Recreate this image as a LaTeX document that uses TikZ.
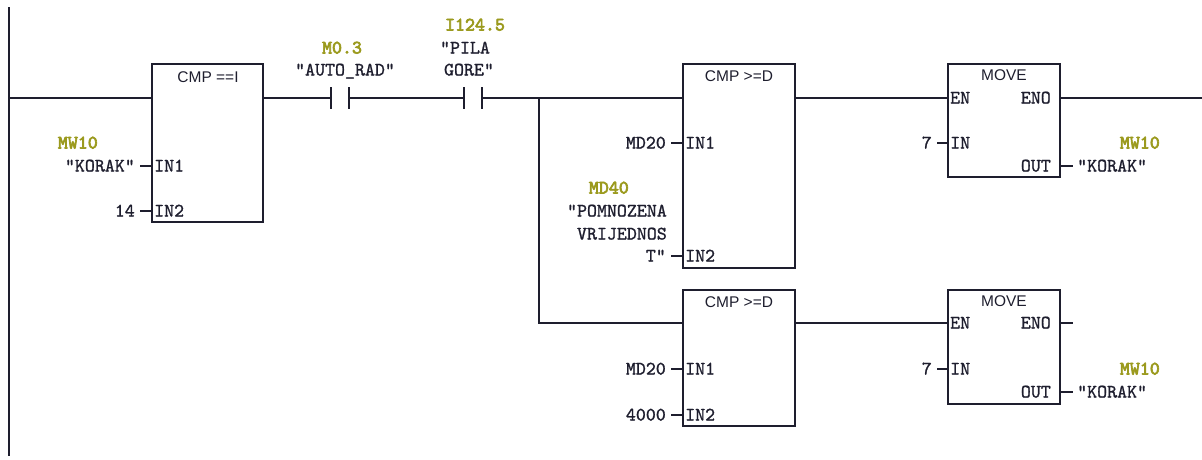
\documentclass[tikz,border=0pt]{standalone}
\usepackage{fontspec}
\setmainfont{Liberation Sans}
\newfontfamily\pinf{lmmono10-regular.otf}[FakeBold=1.2]
\newfontfamily\addrf{lmmono10-regular.otf}[FakeBold=3.5]
\definecolor{ink}{HTML}{1E1E2E}
\definecolor{addrcol}{HTML}{9B9A1E}
\tikzset{
  fb/.style={draw=ink, line width=1.3pt, rectangle, anchor=north west, inner sep=0pt, outer sep=0pt},
  wire/.style={draw=ink, line width=1.1pt},
  plate/.style={draw=ink, line width=1.3pt},
  ttl/.style={font=\fontsize{15.5}{15.5}\selectfont, text=ink, inner sep=0pt, text height=11pt, text depth=0pt},
  pin/.style={font=\pinf\fontsize{19}{19}\selectfont, text=ink, inner sep=0pt, text height=11pt, text depth=0pt},
  addr/.style={font=\addrf\fontsize{19}{19}\selectfont, text=addrcol, inner sep=0pt, text height=11pt, text depth=0pt},
  contact/.style={rectangle, draw=none, minimum width=18pt, minimum height=22pt, inner sep=0pt, outer sep=0pt}
}
\begin{document}
\begin{tikzpicture}[x=1pt,y=-1pt]
\useasboundingbox (0,0) rectangle (1202,459);
% power rail
\coordinate (railT) at (9,7);
\coordinate (railB) at (9,456);
\draw[wire, line width=1.3pt] (railT) -- (railB);
\coordinate (r0) at (9,98);
\coordinate (rEnd) at (1202,98);
\coordinate (br) at (539,98);
\coordinate (brB) at (539,323);

% boxes
\node[fb, minimum width=111pt, minimum height=158pt] (cmp1) at (152,64) {};
\node[fb, minimum width=112pt, minimum height=204pt] (cmp2) at (683,64) {};
\node[fb, minimum width=112pt, minimum height=113pt] (mov1) at (948,64) {};
\node[fb, minimum width=112pt, minimum height=136pt] (cmp3) at (683,290) {};
\node[fb, minimum width=112pt, minimum height=114pt] (mov2) at (948,290) {};

% contacts
\node[contact] (c1) at (340,98) {};
\node[contact] (c2) at (473,98) {};
\draw[plate] (c1.north west) -- (c1.south west) (c1.north east) -- (c1.south east);
\draw[plate] (c2.north west) -- (c2.south west) (c2.north east) -- (c2.south east);

% pin coordinates
\coordinate (cmp1en) at (152,98);  \coordinate (cmp1q) at (263,98);
\coordinate (cmp2en) at (683,98);  \coordinate (cmp2q) at (795,98);
\coordinate (mov1en) at (948,98);  \coordinate (mov1eno) at (1060,98);
\coordinate (cmp3en) at (683,323); \coordinate (cmp3q) at (795,323);
\coordinate (mov2en) at (948,323); \coordinate (mov2eno) at (1060,323);
\coordinate (mov2enoE) at (1073,323);

% rungs
\draw[wire] (r0) -- (cmp1en);
\draw[wire] (cmp1q) -- (c1.west);
\draw[wire] (c1.east) -- (c2.west);
\draw[wire] (c2.east) -- (cmp2en);
\draw[wire] (br) -- (brB) -- (cmp3en);
\draw[wire] (cmp2q) -- (mov1en);
\draw[wire] (mov1eno) -- (rEnd);
\draw[wire] (cmp3q) -- (mov2en);
\draw[wire] (mov2eno) -- (mov2enoE);

% titles
\node[ttl] (t1) at (208,77) {CMP ==I};
\node[ttl] (t2) at (739,76) {CMP >=D};
\node[ttl] (t3) at (1004,75) {MOVE};
\node[ttl] (t4) at (739,302) {CMP >=D};
\node[ttl] (t5) at (1004,301) {MOVE};

% contact labels
\node[addr] (a1) at (342,48) {M0.3};
\node[pin] (s1) at (345,70) {"AUTO\_RAD"};
\node[addr] (a2) at (475,25) {I124.5};
\node[pin] (s2a) at (465,48) {"PILA};
\node[pin] (s2b) at (469,70) {GORE"};

% CMP1 pins
\node[pin, anchor=west] (p11) at (154,166) {IN1};
\node[pin, anchor=west] (p12) at (154,211) {IN2};
\coordinate (l11) at (140,166); \coordinate (l12) at (140,211);
\draw[wire] (l11) -- (l11 -| cmp1.west);
\draw[wire] (l12) -- (l12 -| cmp1.west);
\node[addr, anchor=east] (m11) at (98,143) {MW10};
\node[pin, anchor=east] (v11) at (135,166) {"KORAK"};
\node[pin, anchor=east] (v12) at (135,211) {14};

% CMP2 pins
\node[pin, anchor=west] (p21) at (685,143) {IN1};
\node[pin, anchor=west] (p22) at (685,256) {IN2};
\coordinate (l21) at (671,143); \coordinate (l22) at (671,256);
\draw[wire] (l21) -- (l21 -| cmp2.west);
\draw[wire] (l22) -- (l22 -| cmp2.west);
\node[pin, anchor=east] (v21) at (666,143) {MD20};
\node[addr, anchor=east] (m22) at (629,188) {MD40};
\node[pin, anchor=east] (v22a) at (667,211) {"POMNOZENA};
\node[pin, anchor=east] (v22b) at (667,234) {VRIJEDNOS};
\node[pin, anchor=east] (v22c) at (666,256) {T"};

% CMP3 pins
\node[pin, anchor=west] (p31) at (685,369) {IN1};
\node[pin, anchor=west] (p32) at (685,415) {IN2};
\coordinate (l31) at (671,369); \coordinate (l32) at (671,415);
\draw[wire] (l31) -- (l31 -| cmp3.west);
\draw[wire] (l32) -- (l32 -| cmp3.west);
\node[pin, anchor=east] (v31) at (666,369) {MD20};
\node[pin, anchor=east] (v32) at (666,415) {4000};

% MOVE1 pins
\node[pin, anchor=west] (q1en) at (950,98) {EN};
\node[pin, anchor=east] (q1eno) at (1051,98) {ENO};
\node[pin, anchor=west] (q1in) at (950,143) {IN};
\node[pin, anchor=east] (q1out) at (1051,166) {OUT};
\coordinate (l41) at (937,143); \coordinate (l42) at (1073,166);
\draw[wire] (l41) -- (l41 -| mov1.west);
\draw[wire] (mov1.east |- l42) -- (l42);
\node[pin, anchor=east] (v41) at (932,143) {7};
\node[addr, anchor=east] (m42) at (1160,143) {MW10};
\node[pin, anchor=west] (v42) at (1077,166) {"KORAK"};

% MOVE2 pins
\node[pin, anchor=west] (q2en) at (950,323) {EN};
\node[pin, anchor=east] (q2eno) at (1051,323) {ENO};
\node[pin, anchor=west] (q2in) at (950,369) {IN};
\node[pin, anchor=east] (q2out) at (1051,392) {OUT};
\coordinate (l51) at (937,369); \coordinate (l52) at (1073,392);
\draw[wire] (l51) -- (l51 -| mov2.west);
\draw[wire] (mov2.east |- l52) -- (l52);
\node[pin, anchor=east] (v51) at (932,369) {7};
\node[addr, anchor=east] (m52) at (1160,369) {MW10};
\node[pin, anchor=west] (v52) at (1077,392) {"KORAK"};
\end{tikzpicture}
\end{document}
